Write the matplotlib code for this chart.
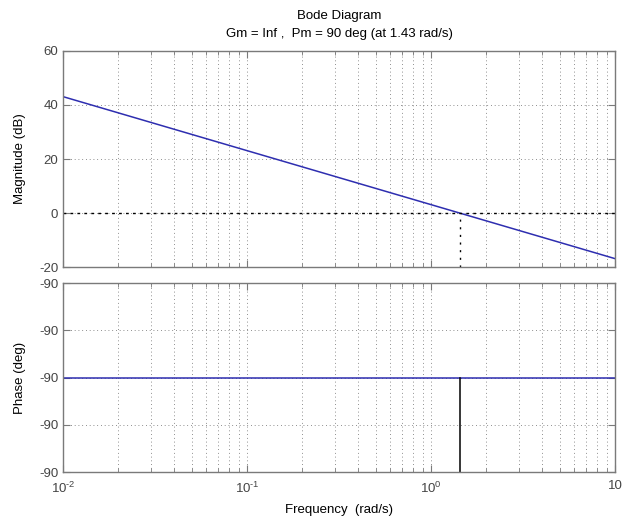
import matplotlib
matplotlib.use("Agg")
import matplotlib.pyplot as plt
from matplotlib.ticker import LogLocator, FixedLocator, FuncFormatter, NullFormatter

freq = [0.01, 0.1, 1.0, 10.0]
mag_db = [43.1, 23.1, 3.1, -16.9]
phase_deg = [-90.0, -90.0, -90.0, -90.0]

wc = 1.43           # gain crossover (rad/s)
pm = 90             # phase margin (deg)
title_lines = ["Bode Diagram", "Gm = Inf ,  Pm = 90 deg (at 1.43 rad/s)"]

mag_ticks = [-20, 0, 20, 40, 60]
phase_ticks = [-90.02, -90.01, -90.0, -89.99, -89.98]
x_ticks = [0.01, 0.1, 1, 10]
x_labels = [r"$10^{\text{-2}}$", r"$10^{\text{-1}}$", r"$10^{0}$", "10"]

plt.rcParams["font.family"] = ["Liberation Sans", "DejaVu Sans"]
plt.rcParams["mathtext.fontset"] = "custom"
plt.rcParams["mathtext.rm"] = "Liberation Sans"
plt.rcParams["mathtext.it"] = "Liberation Sans"
plt.rcParams["axes.unicode_minus"] = False

W, H = 622, 526
fig = plt.figure(figsize=(W / 100, H / 100), dpi=100)
fig.patch.set_facecolor("white")

left, right = 63 / W, 615 / W
ax1 = fig.add_axes([left, 1 - 267 / H, right - left, 216 / H])
ax2 = fig.add_axes([left, 1 - 472 / H, right - left, 189 / H])

line_blue = "#2e2eb0"
frame = "#7a7a7a"
textc = "#444444"
grid_kw = dict(color="#6a6a6a", linestyle=(0, (1, 3.5)), linewidth=0.6)

for ax in (ax1, ax2):
    ax.set_xscale("log")
    ax.set_xlim(0.01, 10)
    ax.xaxis.set_major_locator(FixedLocator(x_ticks))
    ax.xaxis.set_minor_locator(LogLocator(base=10, subs=range(2, 10)))
    ax.xaxis.set_minor_formatter(NullFormatter())
    ax.grid(True, which="both", axis="x", **grid_kw)
    ax.grid(True, which="major", axis="y", **grid_kw)
    for s in ax.spines.values():
        s.set_color(frame)
        s.set_linewidth(1.0)
    ax.tick_params(which="both", direction="in", top=True, right=True,
                   colors=frame, labelcolor=textc, labelsize=9.5)
    ax.tick_params(which="major", length=5)
    ax.tick_params(which="minor", length=3)

# Magnitude
ax1.plot(freq, mag_db, color=line_blue, linewidth=1.1)
ax1.set_ylim(-20, 60)
ax1.set_yticks(mag_ticks)
ax1.set_xticklabels([])
ax1.axhline(0, color="black", linestyle=(0, (2, 3)), linewidth=1.0)
ax1.plot([wc, wc], [-20, 0], color="black", linestyle=(0, (1.5, 4)), linewidth=1.0)
ax1.set_ylabel("Magnitude (dB)", color="black", fontsize=9.5, labelpad=9)
ax1.set_title("\n".join(title_lines), fontsize=9.5, color="black", pad=10,
              linespacing=1.65)

# Phase
ax2.plot(freq, phase_deg, color=line_blue, linewidth=1.1)
ax2.set_ylim(phase_ticks[0], phase_ticks[-1])
ax2.set_yticks(phase_ticks)
ax2.yaxis.set_major_formatter(FuncFormatter(lambda v, p: f"{v:.0f}"))
ax2.plot([wc, wc], [phase_ticks[0], -180 + pm], color="black", linewidth=1.1)
ax2.set_xticklabels(x_labels)
ax2.tick_params(axis="x", pad=6)
ax2.set_ylabel("Phase (deg)", color="black", fontsize=9.5, labelpad=9)
ax2.set_xlabel("Frequency  (rad/s)", color="black", fontsize=9.5, labelpad=6)

fig.savefig("out.png", dpi=100, facecolor="white")
